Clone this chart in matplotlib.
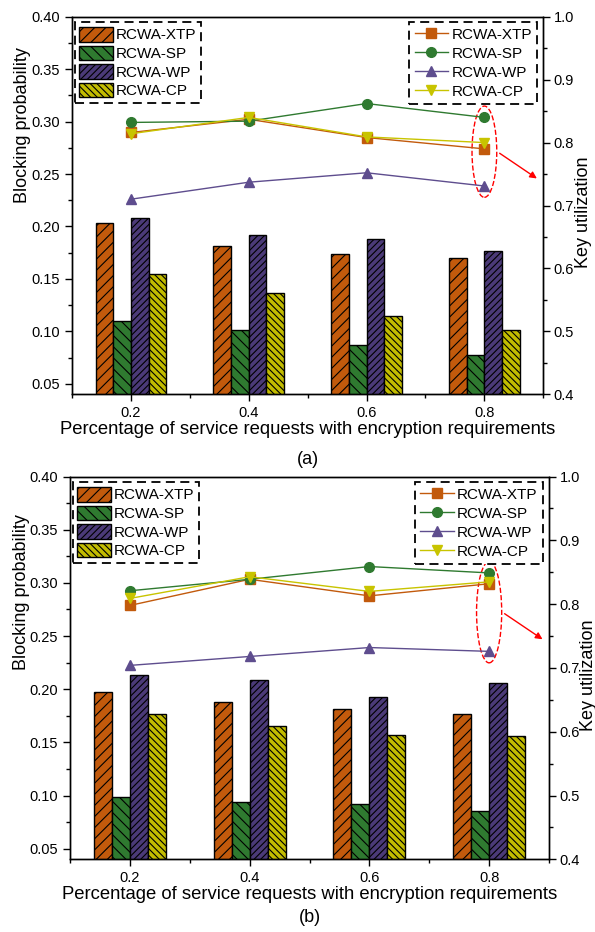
import matplotlib
matplotlib.use('Agg')
import matplotlib.pyplot as plt
from matplotlib.patches import Ellipse
from matplotlib.ticker import MultipleLocator
import numpy as np

plt.rcParams['font.family'] = ['Liberation Sans', 'DejaVu Sans']
plt.rcParams['hatch.linewidth'] = 0.8

# data
x = [0.2, 0.4, 0.6, 0.8]
names = ['RCWA-XTP', 'RCWA-SP', 'RCWA-WP', 'RCWA-CP']

# (a) blocking probability (bars, left axis)
block_a = {
    'RCWA-XTP': [0.203, 0.181, 0.174, 0.170],
    'RCWA-SP': [0.110, 0.101, 0.087, 0.077],
    'RCWA-WP': [0.208, 0.192, 0.188, 0.177],
    'RCWA-CP': [0.155, 0.137, 0.115, 0.101],
}
# (a) key utilization (lines, right axis)
key_a = {
    'RCWA-XTP': [0.816, 0.837, 0.808, 0.790],
    'RCWA-SP': [0.832, 0.834, 0.862, 0.840],
    'RCWA-WP': [0.710, 0.737, 0.752, 0.731],
    'RCWA-CP': [0.814, 0.840, 0.809, 0.800],
}
# (b)
block_b = {
    'RCWA-XTP': [0.197, 0.188, 0.181, 0.177],
    'RCWA-SP': [0.099, 0.094, 0.092, 0.085],
    'RCWA-WP': [0.213, 0.209, 0.193, 0.206],
    'RCWA-CP': [0.177, 0.165, 0.157, 0.156],
}
key_b = {
    'RCWA-XTP': [0.798, 0.839, 0.813, 0.832],
    'RCWA-SP': [0.821, 0.839, 0.859, 0.849],
    'RCWA-WP': [0.704, 0.718, 0.732, 0.726],
    'RCWA-CP': [0.809, 0.843, 0.820, 0.835],
}

bar_colors = ['#C25A0C', '#2F7A30', '#4B3A78', '#C2BC00']
line_colors = ['#C25A0C', '#2F7A30', '#5E4D8E', '#C8C400']
hatches = ['///', '\\\\\\', '/////', '\\\\\\\\\\']
markers = ['s', 'o', '^', 'v']


def dashed_frame(leg):
    fr = leg.get_frame()
    fr.set_edgecolor('black')
    fr.set_linestyle((0, (5, 3)))
    fr.set_linewidth(1.3)


def panel(fig, rect, block, key, label, ylab_xy, klab_xy, label_y):
    ax = fig.add_axes(rect)
    ax2 = ax.twinx()
    w = 0.03
    xs = np.array(x)
    for i, n in enumerate(names):
        ax.bar(xs + (i - 1.5) * w, block[n], width=w, color=bar_colors[i],
               edgecolor='black', linewidth=1, hatch=hatches[i], label=n)
    for i, n in enumerate(names):
        ax2.plot(x, key[n], color=line_colors[i], marker=markers[i],
                 markersize=7, linewidth=1, label=n)

    ax.set_xlim(0.1, 0.9)
    ax.set_ylim(0.04, 0.40)
    ax2.set_ylim(0.4, 1.0)
    ax.set_xticks(x)
    ax.set_xticks([0.1, 0.3, 0.5, 0.7, 0.9], minor=True)
    ax.set_yticks(np.arange(0.05, 0.401, 0.05))
    ax.set_yticklabels(['%.2f' % v for v in np.arange(0.05, 0.401, 0.05)])
    ax.yaxis.set_minor_locator(MultipleLocator(0.025))
    ax2.yaxis.set_major_locator(MultipleLocator(0.1))
    ax2.yaxis.set_minor_locator(MultipleLocator(0.05))
    for a in (ax, ax2):
        a.tick_params(which='major', direction='out', length=5, width=1,
                      labelsize=10.5)
        a.tick_params(which='minor', direction='out', length=3, width=1)
        for s in a.spines.values():
            s.set_linewidth(1)
    ax2.tick_params(which='major', pad=2.5)
    ax.set_ylabel('Blocking probability', fontsize=13)
    ax.yaxis.set_label_coords(*ylab_xy)
    ax2.set_ylabel('Key utilization', fontsize=13)
    ax2.yaxis.set_label_coords(*klab_xy)
    ax.set_xlabel('Percentage of service requests with encryption requirements',
                  fontsize=13.3, labelpad=1)

    leg1 = ax.legend(loc='upper left', bbox_to_anchor=(0.006, 0.985),
                     borderaxespad=0, fontsize=11, handlelength=2.2,
                     handleheight=1.1, labelspacing=0.2, handletextpad=0.2,
                     borderpad=0.3, fancybox=False, framealpha=1)
    dashed_frame(leg1)
    leg2 = ax2.legend(loc='upper right', bbox_to_anchor=(0.987, 0.985),
                      borderaxespad=0, fontsize=11, handlelength=2.2,
                      labelspacing=0.33, handletextpad=0.2, borderpad=0.35,
                      fancybox=False, framealpha=1)
    dashed_frame(leg2)

    # red dashed ellipse around the last group of points and arrow
    last = [key[n][-1] for n in names]
    cy = (max(last) + min(last)) / 2
    h = max(last) - min(last) + 0.036
    ell = Ellipse((x[-1], cy), 0.042, h, fill=False, edgecolor='red',
                  linestyle='--', linewidth=1)
    ax2.add_patch(ell)
    ax2.annotate('', xy=(0.893, cy - 0.045), xytext=(x[-1] + 0.022, cy),
                 arrowprops=dict(arrowstyle='-|>', color='red', lw=1,
                                 mutation_scale=10))
    fig.text(rect[0] + rect[2] / 2, label_y, label, ha='center',
             va='center', fontsize=13)
    return ax, ax2


fig = plt.figure(figsize=(5.95, 9.32), dpi=100)
panel(fig, [72 / 595, 1 - 394.3 / 932, 471.3 / 595, 377.6 / 932],
      block_a, key_a, '(a)', (-0.087, 0.714), (1.067, 0.483), 1 - 460 / 932)
panel(fig, [70 / 595, 1 - 859.3 / 932, 479 / 595, 382.7 / 932],
      block_b, key_b, '(b)', (-0.083, 0.698), (1.064, 0.48), 1 - 918 / 932)
fig.savefig('out.png', dpi=100)
